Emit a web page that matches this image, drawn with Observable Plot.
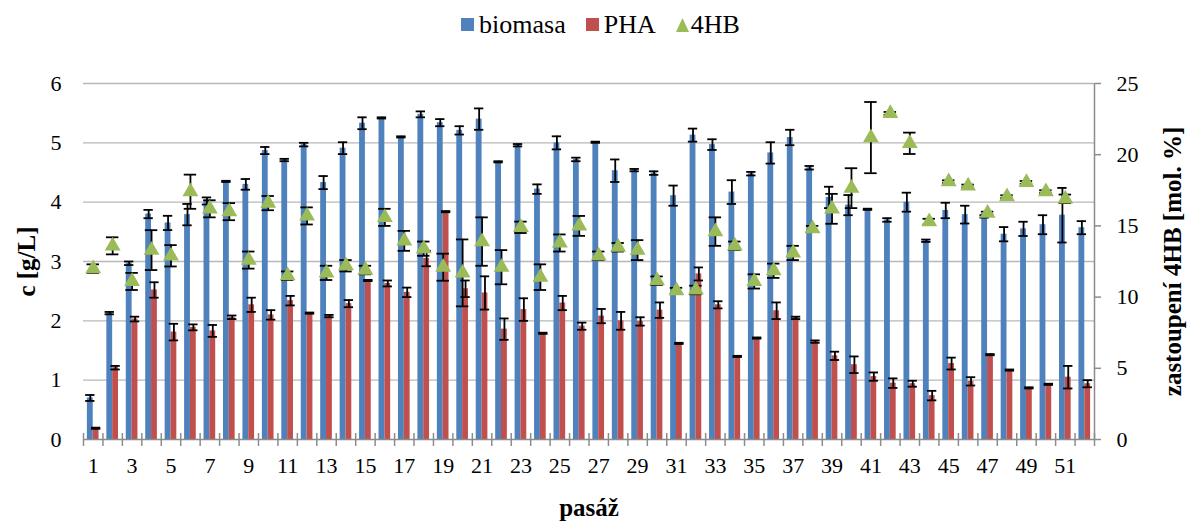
<!DOCTYPE html>
<html>
<head>
<meta charset="utf-8">
<script src="https://cdn.jsdelivr.net/npm/d3@7"></script>
<script src="https://cdn.jsdelivr.net/npm/@observablehq/plot@0.6"></script>
<style>
  html, body { margin: 0; padding: 0; background: #fff; }
  body { font-family: "Liberation Serif", "Times New Roman", serif; color: #000; width: 1187px; }
  #legend { height: 45px; display: flex; justify-content: center; align-items: center; padding-left: 14px; box-sizing: border-box; padding-top: 4px; }
  .item { display: flex; align-items: center; margin: 0 10px; font-size: 26px; }
  .sw { display: inline-block; width: 13px; height: 13px; margin-right: 5px; }
  .tri { margin-right: 2px; }
  #chart svg, #chart svg text { font-family: "Liberation Serif", "Times New Roman", serif !important; }
</style>
</head>
<body>
<div id="legend"></div>
<div id="chart"></div>
<script>
// ---- data ----
const passage = [1,2,3,4,5,6,7,8,9,10,11,12,13,14,15,16,17,18,19,20,21,22,23,24,25,26,27,28,29,30,31,32,33,34,35,36,37,38,39,40,41,42,43,44,45,46,47,48,49,50,51,52];
const xTickLabels = [1,3,5,7,9,11,13,15,17,19,21,23,25,27,29,31,33,35,37,39,41,43,45,47,49,51];

const biomasa = [0.70,2.13,2.97,3.80,3.65,3.79,4.02,4.35,4.30,4.87,4.71,4.97,4.33,4.91,5.33,5.42,5.10,5.48,5.34,5.21,5.40,4.68,4.96,4.22,5.00,4.72,5.01,4.53,4.54,4.49,4.11,5.13,4.97,4.17,4.48,4.83,5.09,4.58,4.08,3.95,3.88,3.70,4.00,3.35,3.86,3.79,3.76,3.46,3.55,3.62,3.78,3.57];
const biomasaErr = [0.05,0.02,0.03,0.07,0.12,0.18,0.06,0.01,0.09,0.06,0.02,0.03,0.11,0.10,0.10,0.01,0.01,0.05,0.06,0.07,0.18,0.01,0.02,0.08,0.11,0.03,0.01,0.19,0.02,0.03,0.17,0.11,0.09,0.20,0.03,0.18,0.13,0.03,0.18,0.17,0.01,0.03,0.16,0.02,0.13,0.15,0.02,0.12,0.12,0.16,0.46,0.11];

const pha = [0.19,1.21,2.03,2.52,1.81,1.89,1.83,2.06,2.27,2.10,2.34,2.13,2.08,2.29,2.68,2.63,2.48,3.05,3.84,2.54,2.47,1.86,2.19,1.79,2.30,1.91,2.08,2.00,1.99,2.18,1.62,2.79,2.27,1.40,1.71,2.17,2.05,1.65,1.41,1.26,1.06,0.95,0.94,0.74,1.28,0.98,1.43,1.17,0.87,0.93,1.05,0.94];
const phaErr = [0.01,0.03,0.04,0.13,0.14,0.05,0.10,0.03,0.12,0.08,0.08,0.01,0.02,0.06,0.01,0.05,0.08,0.13,0.01,0.14,0.28,0.18,0.19,0.01,0.12,0.06,0.12,0.15,0.07,0.13,0.01,0.11,0.06,0.01,0.01,0.14,0.02,0.02,0.07,0.14,0.07,0.08,0.05,0.08,0.10,0.07,0.01,0.01,0.01,0.01,0.19,0.06];

const hb4 = [12.0,13.6,11.1,13.3,12.9,17.4,16.2,16.0,12.6,16.6,11.5,15.7,11.7,12.2,11.9,15.6,13.95,13.4,12.1,11.7,13.9,12.1,14.9,11.4,13.8,15.0,12.9,13.5,13.3,11.15,10.45,10.5,14.6,13.6,11.1,11.85,13.1,14.8,16.2,17.65,21.2,22.9,20.8,15.3,18.1,17.8,15.9,17.05,18.05,17.4,16.9,null];
const hb4Err = [0.3,0.6,0.6,1.4,0.75,1.2,0.6,0.6,0.6,0.5,0.3,0.6,0.5,0.4,0.3,0.6,0.7,0.5,0.95,2.35,1.7,1.2,0.4,0.9,0.6,0.7,0.3,0.3,0.7,0.3,0.2,0.3,1.0,0.3,0.5,0.5,0.5,0.2,1.05,1.4,2.5,0.1,0.75,0.2,0.1,0.1,0.1,0.1,0.1,0.1,0.3,null];

const leftTicks = [0,1,2,3,4,5,6];
const rightTicks = [0,5,10,15,20,25];

const seriesNames = ["biomasa", "PHA", "4HB"];
const colors = {biomasa: "#4F81BD", PHA: "#C0504D", "4HB": "#9BBB59"};

// ---- legend ----
const legend = document.getElementById("legend");
seriesNames.forEach(name => {
  const it = document.createElement("div");
  it.className = "item";
  if (name === "4HB") {
    it.innerHTML = `<svg class="tri" width="13" height="14" viewBox="0 0 13 14"><polygon points="6.5,0 13,14 0,14" fill="${colors[name]}"/></svg><span>${name}</span>`;
  } else {
    it.innerHTML = `<span class="sw" style="background:${colors[name]}"></span><span>${name}</span>`;
  }
  legend.appendChild(it);
});

// ---- chart ----
const FONT = "Liberation Serif";
const K = 6 / 25; // right axis (0-25) mapped onto left axis (0-6)
const rows = passage.map((p, i) => ({p, bio: biomasa[i], bioErr: biomasaErr[i], pha: pha[i], phaErr: phaErr[i], hb: hb4[i], hbErr: hb4Err[i]}));
const hbRows = rows.filter(d => d.hb != null);
const bw = 0.3;   // bar width (band units)
const cap = 0.24; // half cap width for bars
const capT = 0.32; // half cap width for 4HB
const bounds = [0.5, ...passage.map(p => p + 0.5)];
const axisGray = "#8c8c8c";
const ebw = 1.8;

const chart = Plot.plot({
  width: 1187,
  height: 478,
  marginLeft: 83,
  marginRight: 93,
  marginTop: 38,
  marginBottom: 84,
  style: {fontFamily: FONT, fontSize: "22px", color: "#000", background: "#fff", overflow: "visible"},
  x: {domain: [0.5, 52.5], axis: null, label: null},
  y: {domain: [0, 6], axis: null, label: null},
  marks: [
    Plot.gridY(leftTicks.filter(t => t > 0), {stroke: "#b8b8b8", strokeOpacity: 1, strokeWidth: 1.4}),
    Plot.axisY(leftTicks, {anchor: "left", label: null, tickSize: 0, tickPadding: 22, fontSize: 22, fontFamily: FONT, tickFormat: d => String(d)}),
    Plot.axisY(rightTicks.map(v => v * K), {anchor: "right", label: null, tickSize: 6, tickPadding: 16, stroke: axisGray, strokeWidth: 1.5, fontSize: 22, fontFamily: FONT, tickFormat: d => String(Math.round(d / K))}),
    Plot.ruleX([52.5], {stroke: axisGray, strokeWidth: 1.5}),
    // bars
    Plot.rect(rows, {x1: d => d.p - bw, x2: d => d.p, y1: 0, y2: "bio", fill: colors.biomasa}),
    Plot.rect(rows, {x1: d => d.p, x2: d => d.p + bw, y1: 0, y2: "pha", fill: colors.PHA}),
    // x axis
    Plot.ruleY([0], {stroke: axisGray, strokeWidth: 1.5}),
    Plot.axisX(bounds, {anchor: "bottom", label: null, tickSize: 13, dy: -6, stroke: axisGray, strokeWidth: 1.5, tickFormat: () => ""}),
    Plot.axisX(xTickLabels, {anchor: "bottom", label: null, tickSize: 0, tickPadding: 18, fontSize: 22, fontFamily: FONT, tickFormat: d => String(d)}),
    // biomasa error bars
    Plot.ruleX(rows, {x: d => d.p - bw / 2, y1: d => d.bio - d.bioErr, y2: d => d.bio + d.bioErr, stroke: "#000", strokeWidth: ebw}),
    Plot.ruleY(rows, {y: d => d.bio + d.bioErr, x1: d => d.p - bw / 2 - cap, x2: d => d.p - bw / 2 + cap, stroke: "#000", strokeWidth: ebw}),
    Plot.ruleY(rows, {y: d => d.bio - d.bioErr, x1: d => d.p - bw / 2 - cap, x2: d => d.p - bw / 2 + cap, stroke: "#000", strokeWidth: ebw}),
    // PHA error bars
    Plot.ruleX(rows, {x: d => d.p + bw / 2, y1: d => d.pha - d.phaErr, y2: d => d.pha + d.phaErr, stroke: "#000", strokeWidth: ebw}),
    Plot.ruleY(rows, {y: d => d.pha + d.phaErr, x1: d => d.p + bw / 2 - cap, x2: d => d.p + bw / 2 + cap, stroke: "#000", strokeWidth: ebw}),
    Plot.ruleY(rows, {y: d => d.pha - d.phaErr, x1: d => d.p + bw / 2 - cap, x2: d => d.p + bw / 2 + cap, stroke: "#000", strokeWidth: ebw}),
    // 4HB error bars + markers (right axis)
    Plot.ruleX(hbRows, {x: "p", y1: d => (d.hb - d.hbErr) * K, y2: d => (d.hb + d.hbErr) * K, stroke: "#000", strokeWidth: ebw}),
    Plot.ruleY(hbRows, {y: d => (d.hb + d.hbErr) * K, x1: d => d.p - capT, x2: d => d.p + capT, stroke: "#000", strokeWidth: ebw}),
    Plot.ruleY(hbRows, {y: d => (d.hb - d.hbErr) * K, x1: d => d.p - capT, x2: d => d.p + capT, stroke: "#000", strokeWidth: ebw}),
    Plot.dot(hbRows, {x: "p", y: d => d.hb * K, symbol: "triangle", r: 5.9, fill: colors["4HB"], stroke: "none"}),
    // axis titles
    Plot.text(["c [g/L]"], {frameAnchor: "left", dx: -57, rotate: -90, textAnchor: "middle", fontSize: 25, fontWeight: "bold", fontFamily: FONT, text: d => d}),
    Plot.text(["zastoupení 4HB [mol. %]"], {frameAnchor: "right", dx: 78, rotate: -90, textAnchor: "middle", fontSize: 25, fontWeight: "bold", fontFamily: FONT, text: d => d}),
    Plot.text(["pasáž"], {frameAnchor: "bottom", dy: 76, textAnchor: "middle", fontSize: 25, fontWeight: "bold", fontFamily: FONT, text: d => d})
  ]
});
document.getElementById("chart").appendChild(chart);
</script>
</body>
</html>
